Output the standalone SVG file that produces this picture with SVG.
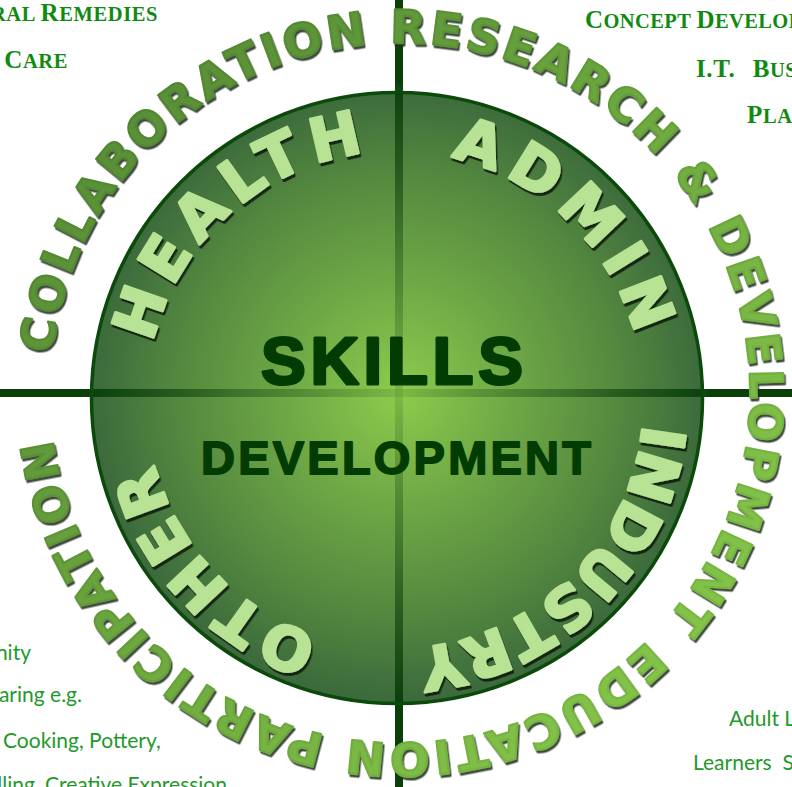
<svg xmlns="http://www.w3.org/2000/svg" xmlns:xlink="http://www.w3.org/1999/xlink" width="792" height="787" viewBox="0 0 792 787">
  <style>
    .outer { font-family: "DejaVu Sans", "Liberation Sans", sans-serif; font-weight: bold; font-size: 46px; fill: url(#ringGrad); stroke: url(#ringEdge); stroke-width: 2.2; stroke-linejoin: round; filter: url(#sh); }
    .inner { font-family: "DejaVu Sans", "Liberation Sans", sans-serif; font-weight: bold; font-size: 60px; fill: #b8e294; stroke: #b8e294; stroke-width: 2.8; stroke-linejoin: round; filter: url(#sh2); }
    .core { font-family: "Liberation Sans", Arial, sans-serif; font-weight: bold; fill: #033c03; stroke: #033c03; text-anchor: middle; stroke-linejoin: round; }
    .sc { font-family: "Liberation Serif", "Times New Roman", serif; font-weight: bold; font-size: 20.5px; fill: #118a11; white-space: pre; }
    .sc .b { font-size: 25px; }
    .note { font-family: Lato, "Liberation Sans", sans-serif; font-size: 21px; fill: #22992a; white-space: pre; }
  </style>
  <defs>
    <radialGradient id="discGrad" gradientUnits="userSpaceOnUse" cx="399" cy="393" r="310">
      <stop offset="0" stop-color="#8dcb4c"/>
      <stop offset="0.3" stop-color="#73ae47"/>
      <stop offset="0.7" stop-color="#55893f"/>
      <stop offset="1" stop-color="#3b693c"/>
    </radialGradient>
    <radialGradient id="lineGrad" gradientUnits="userSpaceOnUse" cx="399" cy="393" r="310">
      <stop offset="0" stop-color="#0a3f0a" stop-opacity="0.12"/>
      <stop offset="0.5" stop-color="#0a3f0a" stop-opacity="0.4"/>
      <stop offset="0.9" stop-color="#0a3f0a" stop-opacity="0.8"/>
      <stop offset="1" stop-color="#0a3f0a" stop-opacity="1"/>
    </radialGradient>
    <linearGradient id="ringGrad" gradientUnits="userSpaceOnUse" x1="60" y1="120" x2="690" y2="700">
      <stop offset="0" stop-color="#568b36"/>
      <stop offset="1" stop-color="#86c64a"/>
    </linearGradient>
    <linearGradient id="ringEdge" gradientUnits="userSpaceOnUse" x1="60" y1="120" x2="690" y2="700">
      <stop offset="0" stop-color="#4e822f"/>
      <stop offset="1" stop-color="#7bbb42"/>
    </linearGradient>
    <filter id="sh" x="-10%" y="-10%" width="130%" height="130%">
      <feDropShadow dx="1.5" dy="2.5" stdDeviation="0.5" flood-color="#1f2b1f" flood-opacity="0.85"/>
    </filter>
    <filter id="sh2" x="-10%" y="-10%" width="130%" height="130%">
      <feDropShadow dx="1.5" dy="3" stdDeviation="0.6" flood-color="#0f1a0f" flood-opacity="0.9"/>
    </filter>
    <path id="pTop" d="M 52.25 353.38 A 350 350 0 1 1 665.35 621.24"/>
    <path id="pBottom" d="M 647.49 640.49 A 350 350 0 0 1 52.61 435.65"/>
    <path id="pHealth" d="M 152.68 342.72 A 249 249 0 0 1 365.95 152.70"/>
    <path id="pAdmin" d="M 451.01 157.38 A 249 249 0 0 1 635.52 335.55"/>
    <path id="pIndustry" d="M 642.81 424.30 A 249 249 0 0 1 415.84 648.13"/>
    <path id="pOther" d="M 319.30 637.21 A 249 249 0 0 1 154.04 462.77"/>
  </defs>

  <rect width="792" height="787" fill="#ffffff"/>

  <g id="disc">
    <circle cx="397" cy="398" r="305.5" fill="url(#discGrad)"/>
  </g>

  <g id="connectors">
    <line x1="399" y1="0" x2="399" y2="787" stroke="url(#lineGrad)" stroke-width="8"/>
    <line x1="0" y1="393" x2="792" y2="393" stroke="url(#lineGrad)" stroke-width="8"/>
  </g>

  <g id="disc-rim">
    <circle cx="397" cy="398" r="305.5" fill="none" stroke="#0b4a0b" stroke-width="3.5"/>
  </g>

  <g id="ring-top">
    <text class="outer"><textPath xlink:href="#pTop" href="#pTop" textLength="1305" lengthAdjust="spacing">COLLABORATION RESEARCH &amp; DEVELOPMENT</textPath></text>
  </g>
  <g id="ring-bottom">
    <text class="outer"><textPath xlink:href="#pBottom" href="#pBottom" textLength="778" lengthAdjust="spacing">EDUCATION PARTICIPATION</textPath></text>
  </g>

  <g id="health">
    <text class="inner"><textPath xlink:href="#pHealth" href="#pHealth" textLength="302" lengthAdjust="spacing">HEALTH</textPath></text>
  </g>
  <g id="admin">
    <text class="inner"><textPath xlink:href="#pAdmin" href="#pAdmin" textLength="268" lengthAdjust="spacing">ADMIN</textPath></text>
  </g>
  <g id="industry">
    <text class="inner"><textPath xlink:href="#pIndustry" href="#pIndustry" textLength="344" lengthAdjust="spacing">INDUSTRY</textPath></text>
  </g>
  <g id="other">
    <text class="inner"><textPath xlink:href="#pOther" href="#pOther" textLength="249" lengthAdjust="spacing">OTHER</textPath></text>
  </g>

  <g id="center">
    <text class="core" x="392" y="384" font-size="67" stroke-width="3" textLength="262" lengthAdjust="spacing">SKILLS</text>
    <text class="core" x="396" y="474" font-size="47" stroke-width="1.8" textLength="390" lengthAdjust="spacing">DEVELOPMENT</text>
  </g>

  <g id="notes-top-left">
    <text class="sc" x="158" y="21" text-anchor="end" letter-spacing="0.6">RAL <tspan class="b">R</tspan>EMEDIES</text>
    <text class="sc" x="68" y="68" text-anchor="end" letter-spacing="0.6">D <tspan class="b">C</tspan>ARE</text>
  </g>
  <g id="notes-top-right">
    <text class="sc" x="585" y="28" letter-spacing="0.4"><tspan class="b">C</tspan>ONCEPT <tspan class="b">D</tspan>EVELOP</text>
    <text class="sc" x="696" y="77" letter-spacing="0.6"><tspan class="b">I.T.</tspan>   <tspan class="b">B</tspan>US</text>
    <text class="sc" x="747" y="123" letter-spacing="0.6"><tspan class="b">P</tspan>LAN</text>
  </g>
  <g id="notes-bottom-left">
    <text class="note" x="31" y="660" text-anchor="end">nity</text>
    <text class="note" x="82" y="702" text-anchor="end">aring e.g.</text>
    <text class="note" x="3" y="748">Cooking, Pottery,</text>
    <text class="note" x="227" y="792" text-anchor="end">lling, Creative Expression</text>
  </g>
  <g id="notes-bottom-right">
    <text class="note" x="729" y="726">Adult L</text>
    <text class="note" x="693" y="770">Learners  S</text>
  </g>
</svg>
